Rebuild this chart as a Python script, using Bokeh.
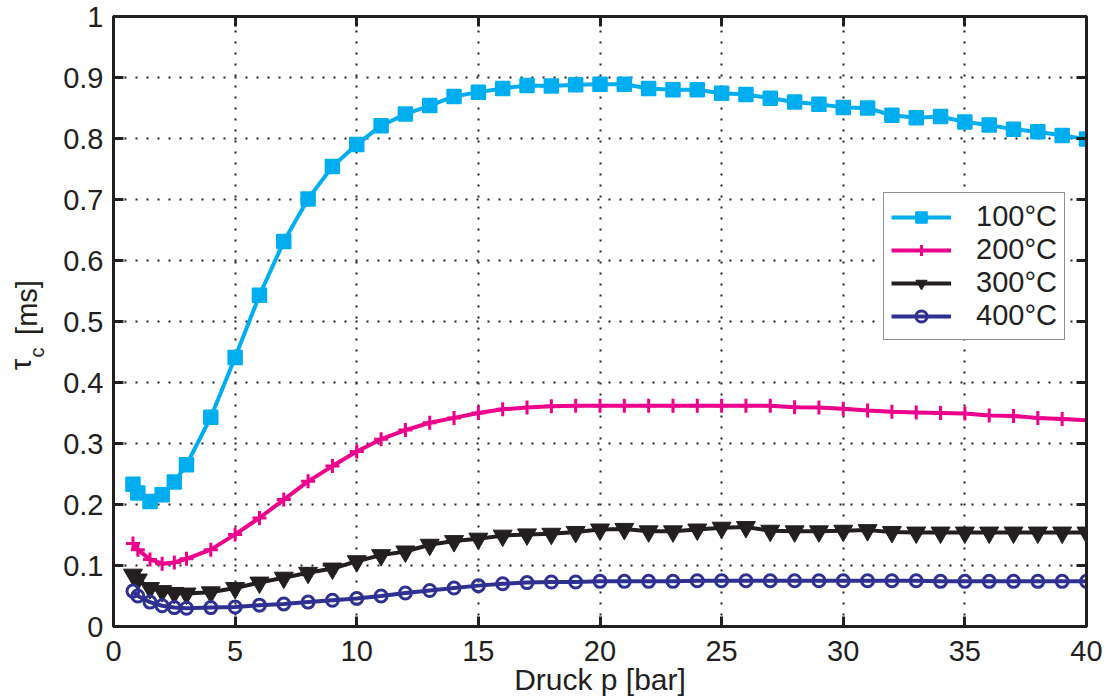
import math
from bokeh.plotting import figure
from bokeh.layouts import row
from bokeh.models import (LinearAxis, FixedTicker, PrintfTickFormatter, CustomJSTickFormatter,
                          Legend, LegendItem, Range1d)
from bokeh.core.properties import value
from bokeh.embed import file_html
from bokeh.resources import INLINE

# ---------------- data ----------------
pressure_bar = [0.8, 1, 1.5, 2, 2.5, 3, 4, 5, 6, 7, 8, 9, 10, 11, 12, 13, 14, 15, 16, 17,
                18, 19, 20, 21, 22, 23, 24, 25, 26, 27, 28, 29, 30, 31, 32, 33, 34, 35,
                36, 37, 38, 39, 40]

tau_100 = [0.233, 0.219, 0.205, 0.216, 0.237, 0.265, 0.343, 0.441, 0.543, 0.631, 0.701,
           0.754, 0.790, 0.821, 0.840, 0.854, 0.869, 0.876, 0.882, 0.887, 0.886, 0.888,
           0.889, 0.889, 0.882, 0.880, 0.880, 0.874, 0.872, 0.866, 0.860, 0.856, 0.851,
           0.850, 0.838, 0.834, 0.836, 0.827, 0.822, 0.815, 0.811, 0.805, 0.799]

tau_200 = [0.136, 0.126, 0.110, 0.103, 0.105, 0.111, 0.126, 0.151, 0.178, 0.208, 0.238,
           0.263, 0.287, 0.307, 0.322, 0.334, 0.342, 0.350, 0.356, 0.359, 0.361, 0.362,
           0.362, 0.362, 0.362, 0.362, 0.362, 0.362, 0.362, 0.362, 0.3595, 0.359, 0.357,
           0.354, 0.352, 0.351, 0.350, 0.349, 0.346, 0.345, 0.342, 0.340, 0.338]

tau_300 = [0.085, 0.077, 0.063, 0.058, 0.055, 0.054, 0.056, 0.063, 0.072, 0.080, 0.088,
           0.095, 0.107, 0.117, 0.123, 0.134, 0.140, 0.144, 0.149, 0.151, 0.152, 0.155,
           0.159, 0.160, 0.156, 0.156, 0.159, 0.162, 0.163, 0.157, 0.156, 0.156, 0.157,
           0.158, 0.155, 0.154, 0.154, 0.154, 0.154, 0.154, 0.154, 0.154, 0.154]

tau_400 = [0.058, 0.050, 0.040, 0.034, 0.031, 0.030, 0.031, 0.032, 0.035, 0.037, 0.040,
           0.043, 0.046, 0.050, 0.055, 0.059, 0.063, 0.067, 0.070, 0.072, 0.073, 0.073,
           0.074, 0.074, 0.074, 0.074, 0.075, 0.075, 0.075, 0.075, 0.075, 0.075, 0.075,
           0.075, 0.075, 0.075, 0.074, 0.074, 0.074, 0.074, 0.074, 0.074, 0.074]

series_labels = ["100°C", "200°C", "300°C", "400°C"]
x_ticks = [0, 5, 10, 15, 20, 25, 30, 35, 40]
y_ticks = [0, 0.1, 0.2, 0.3, 0.4, 0.5, 0.6, 0.7, 0.8, 0.9, 1]
x_label = "Druck p [bar]"
y_label_symbol = "τ"
y_label_sub = "c"
y_label_unit = "[ms]"

# ---------------- style ----------------
FONT = "Liberation Sans"
INK = "#231f20"
colors = ["#00aeef", "#ec008c", "#231f20", "#2e3192"]
LEFT_W = 48
TOP, BOTTOM = 16, 74

p = figure(width=1111 - LEFT_W, height=700, x_range=Range1d(0, 40), y_range=Range1d(0, 1),
           output_backend="svg", toolbar_location=None,
           min_border_left=113 - LEFT_W, min_border_right=25, min_border_top=TOP,
           min_border_bottom=BOTTOM)
p.background_fill_color = "white"
p.border_fill_color = "white"
p.outline_line_color = INK
p.outline_line_width = 3


def style_axis(ax):
    ax.axis_line_width = 3
    ax.axis_line_color = INK
    ax.major_tick_in = 10
    ax.major_tick_out = 0
    ax.major_tick_line_width = 3
    ax.major_tick_line_color = INK
    ax.minor_tick_line_color = None
    ax.major_label_text_font = FONT
    ax.major_label_text_font_size = "29px"
    ax.major_label_text_color = INK


p.xaxis.ticker = FixedTicker(ticks=x_ticks)
p.yaxis.ticker = FixedTicker(ticks=y_ticks)
p.yaxis.formatter = PrintfTickFormatter(format="%g")
style_axis(p.xaxis[0])
style_axis(p.yaxis[0])
p.xaxis.major_label_standoff = 14
p.yaxis.major_label_standoff = 10
p.xaxis.axis_label = x_label
p.xaxis.axis_label_text_font = FONT
p.xaxis.axis_label_text_font_size = "30px"
p.xaxis.axis_label_text_font_style = "normal"
p.xaxis.axis_label_text_color = INK
p.xaxis.axis_label_standoff = -1

blank = CustomJSTickFormatter(code="return ''")
top_ax = LinearAxis(ticker=FixedTicker(ticks=x_ticks), formatter=blank)
right_ax = LinearAxis(ticker=FixedTicker(ticks=y_ticks), formatter=blank)
for ax in (top_ax, right_ax):
    style_axis(ax)
    ax.major_label_text_font_size = "0px"
    ax.major_label_standoff = 0
p.add_layout(top_ax, "above")
p.add_layout(right_ax, "right")

for g in (p.xgrid[0], p.ygrid[0]):
    g.grid_line_color = INK
    g.grid_line_width = 2
    g.grid_line_dash = "2 9"

# ---------------- series ----------------
series = [tau_100, tau_200, tau_300, tau_400]
marker_specs = [
    dict(marker="square", size=14, line_width=1.5),
    dict(marker="cross", size=14, line_width=3),
    dict(marker="inverted_triangle", size=19, line_width=1),
    dict(marker="circle", size=12, line_width=3, fill_alpha=0),
]
items = []
for vals, col, spec, lab in zip(series, colors, marker_specs, series_labels):
    r_line = p.line(pressure_bar, vals, line_color=col, line_width=4)
    kw = dict(spec)
    fa = kw.pop("fill_alpha", 1.0)
    r_mark = p.scatter(pressure_bar, vals, fill_color=col, fill_alpha=fa, line_color=col, **kw)
    items.append(LegendItem(label=lab, renderers=[r_line, r_mark]))

legend = Legend(items=items, location=(770, 286))
legend.label_text_font = FONT
legend.label_text_font_size = "29px"
legend.label_text_color = INK
legend.glyph_width = 60
legend.glyph_height = 28
legend.label_height = 28
legend.label_standoff = 25
legend.padding = 7
legend.spacing = 0
legend.margin = 0
legend.border_line_color = INK
legend.border_line_width = 1.5
legend.background_fill_color = "white"
legend.background_fill_alpha = 1
p.add_layout(legend)

# ---------------- y-axis label panel (tau with subscript c, rotated) ----------------
# the row layout aligns this panel's frame with the main frame (top 16, bottom 626),
# so the y range is expressed in page pixels of that frame
ylab = figure(width=LEFT_W, height=700, x_range=Range1d(0, LEFT_W),
              y_range=Range1d(700 - BOTTOM, TOP),
              output_backend="svg", toolbar_location=None, x_axis_type=None, y_axis_type=None,
              min_border_left=0, min_border_right=0, min_border_top=TOP,
              min_border_bottom=BOTTOM)
ylab.outline_line_color = None
ylab.grid.visible = False
common = dict(angle=math.pi / 2, text_align="center", text_baseline="middle",
              text_font=value(FONT), text_color=INK)
ylab.text(x=[20], y=[364], text=[y_label_symbol], text_font_size="29px", **common)
ylab.text(x=[36], y=[352], text=[y_label_sub], text_font_size="20px", **common)
ylab.text(x=[26], y=[307], text=[y_label_unit], text_font_size="29px", **common)

layout = row(ylab, p, spacing=0)
open("out.html", "w").write(file_html(layout, INLINE))
